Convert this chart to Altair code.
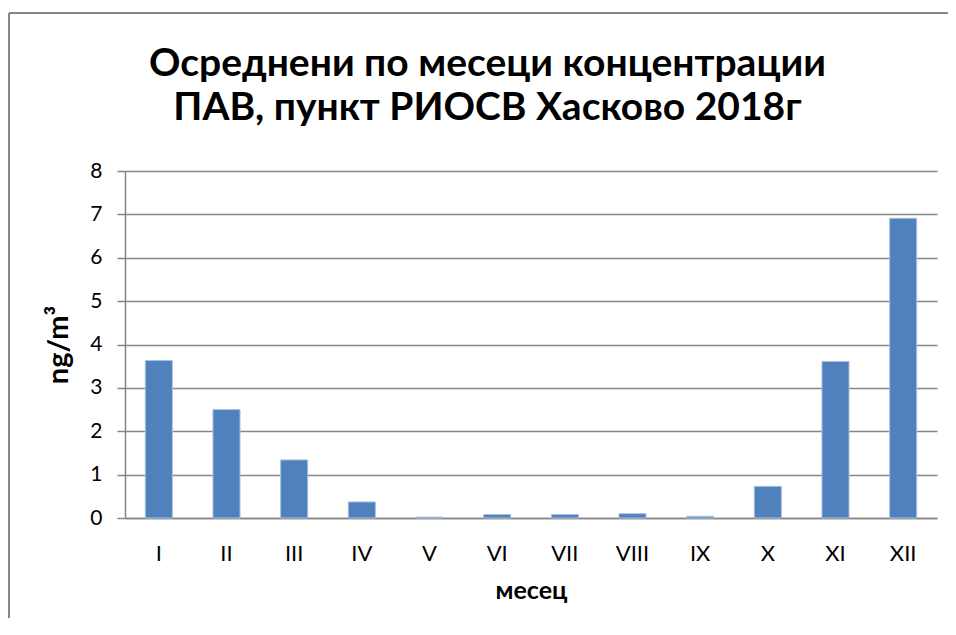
import altair as alt
import pandas as pd

months = ["I", "II", "III", "IV", "V", "VI", "VII", "VIII", "IX", "X", "XI", "XII"]
values = [3.63, 2.50, 1.34, 0.37, 0.02, 0.08, 0.08, 0.10, 0.04, 0.73, 3.61, 6.91]
y_ticks = [0, 1, 2, 3, 4, 5, 6, 7, 8]
title_lines = ["Осреднени по месеци концентрации", "ПАВ, пункт РИОСВ Хасково 2018г"]
x_title = "месец"
y_title = "ng/m³"

df = pd.DataFrame({"month": months, "value": values})

FONT = "Lato"
GRAY = "#868686"
W, H = 812, 347

bars = alt.Chart(df).mark_bar(color="#4F81BD", stroke="#A9C1E0", strokeWidth=1).encode(
    x=alt.X("month:N", sort=months,
            scale=alt.Scale(paddingInner=0.6, paddingOuter=0.3),
            axis=alt.Axis(title=x_title, labelAngle=0, ticks=False, labelPadding=25,
                          labelFontSize=22, labelFont=FONT, labelColor="black",
                          titleFontSize=25, titleFont=FONT, titleFontWeight="bold",
                          titleColor="black", titlePadding=14,
                          domainColor=GRAY, domainWidth=1.5, grid=False)),
    y=alt.Y("value:Q", scale=alt.Scale(domain=[0, 8], nice=False),
            axis=alt.Axis(title=y_title, values=y_ticks, tickSize=8, tickColor=GRAY, tickWidth=1.5,
                          labelPadding=15, labelFontSize=21, labelFont=FONT, labelColor="black",
                          titleFontSize=29, titleFont=FONT, titleFontWeight="bold",
                          titleColor="black", titleX=-67, titleY=H / 2, titleAngle=270,
                          titleBaseline="middle", titleAlign="center",
                          domainColor=GRAY, domainWidth=1.5,
                          grid=True, gridColor=GRAY, gridWidth=1.5)),
)

frame_df = pd.DataFrame({"k": [0]})
top_border = alt.Chart(frame_df).mark_rule(color=GRAY, strokeWidth=2).encode(
    x=alt.value(-116), x2=alt.value(W + 11), y=alt.value(-158))
left_border = alt.Chart(frame_df).mark_rule(color=GRAY, strokeWidth=2).encode(
    x=alt.value(-116), y=alt.value(-158), y2=alt.value(H + 100))

chart = alt.layer(top_border, left_border, bars).properties(
    width=W, height=H,
    title=alt.Title(text=title_lines, fontSize=39, font=FONT, fontWeight="bold",
                    lineHeight=44, anchor="middle", dx=-43.5, dy=155, offset=0,
                    baseline="bottom", color="black"),
    autosize=alt.AutoSizeParams(type="none"),
    padding={"left": 117, "top": 163, "right": 11, "bottom": 100},
).configure_view(strokeWidth=0)

chart.save("out.html", embed_options={"renderer": "svg", "actions": False})
